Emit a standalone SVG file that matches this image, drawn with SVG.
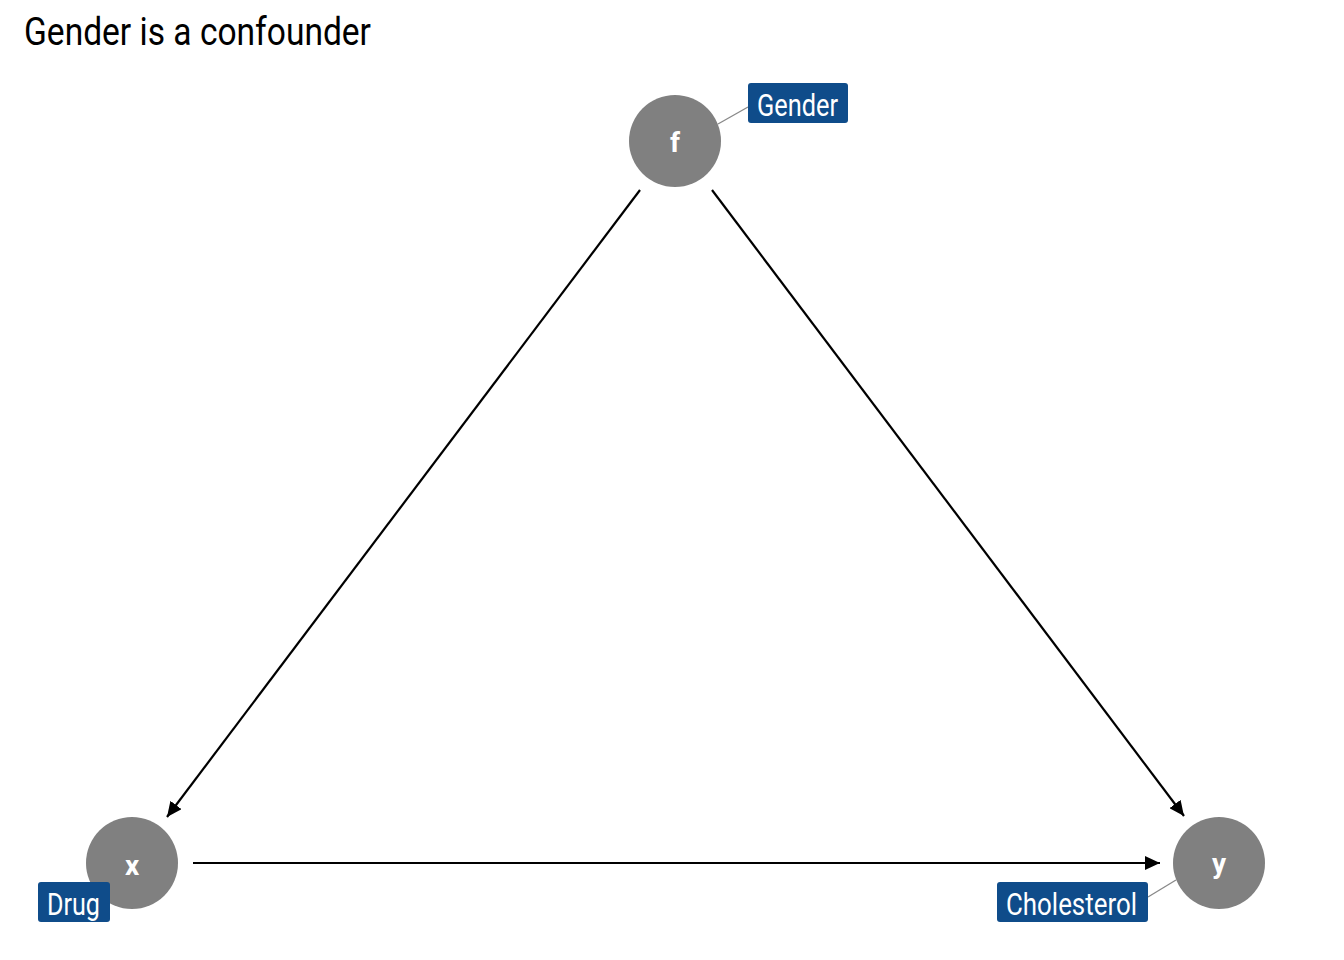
<svg xmlns="http://www.w3.org/2000/svg" width="1344" height="960" viewBox="0 0 1344 960">
<style>
.title{font-family:"Roboto","Liberation Sans",sans-serif;font-size:38px;fill:#000}
.node circle{fill:#808080}
.node text{font-family:"Roboto","Liberation Sans",sans-serif;font-size:28px;font-weight:bold;fill:#fff;text-anchor:middle}
.lab rect{fill:#0F4C8A}
.lab text{font-family:"Roboto","Liberation Sans",sans-serif;font-size:31px;fill:#fff}
.lab line{stroke:#888;stroke-width:1.3}
.edge{stroke:#000;stroke-width:2.2;fill:none}
</style>
<defs>
<marker id="arr" markerUnits="userSpaceOnUse" markerWidth="16" markerHeight="14" refX="15" refY="7" orient="auto">
<path d="M0,0 L15,7 L0,14 Z" fill="#000"/>
</marker>
</defs>
<rect width="1344" height="960" fill="#fff"/>
<text class="title" x="24" y="45" textLength="347" lengthAdjust="spacingAndGlyphs">Gender is a confounder</text>
<g id="edges">
<line class="edge" x1="640" y1="190" x2="167" y2="817" marker-end="url(#arr)"/>
<line class="edge" x1="712" y1="190" x2="1184" y2="816" marker-end="url(#arr)"/>
<line class="edge" x1="193" y1="863" x2="1160" y2="863" marker-end="url(#arr)"/>
</g>
<g id="node-f" class="node"><circle cx="675" cy="141" r="46"/><text x="675" y="152">f</text></g>
<g id="node-x" class="node"><circle cx="132" cy="863" r="46"/><text x="132" y="875">x</text></g>
<g id="node-y" class="node"><circle cx="1219" cy="863" r="46"/><text x="1219" y="873">y</text></g>
<g id="label-gender" class="lab">
<line x1="718" y1="124" x2="748" y2="107"/>
<rect x="748" y="83" width="100" height="40" rx="3"/>
<text x="757" y="116" textLength="81" lengthAdjust="spacingAndGlyphs">Gender</text>
</g>
<g id="label-drug" class="lab">
<rect x="38" y="882" width="72" height="40" rx="3"/>
<text x="47" y="915" textLength="53" lengthAdjust="spacingAndGlyphs">Drug</text>
</g>
<g id="label-cholesterol" class="lab">
<line x1="1148" y1="897" x2="1176" y2="880"/>
<rect x="997" y="882" width="151" height="40" rx="3"/>
<text x="1006" y="915" textLength="131" lengthAdjust="spacingAndGlyphs">Cholesterol</text>
</g>
</svg>
